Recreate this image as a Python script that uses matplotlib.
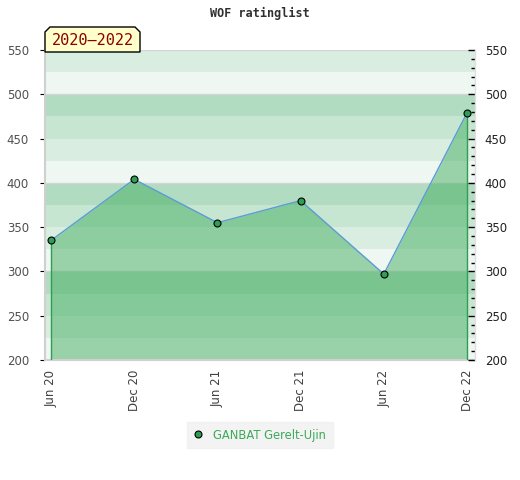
import numpy as np
import matplotlib
matplotlib.use('Agg')
import matplotlib.pyplot as plt
from matplotlib.patches import Polygon

##------------data-----------------##
months = ['Jun 20', 'Dec 20', 'Jun 21', 'Dec 21', 'Jun 22', 'Dec 22']
ratings = [335, 404, 355, 380, 297, 479]
player = 'GANBAT Gerelt-Ujin'
period = '2020\u20132022'
title = 'WOF ratinglist'

y_min, y_max = 200, 550
band_colors = ['#d9ede0', '#eef7f2', '#b2dcc1', '#c7e6d2']  # from top, every 25

##------------figure-----------------##
fig = plt.figure(figsize=(5.2, 4.8), dpi=100)
ax = fig.add_axes([45/520, 120/480, 430/520, 310/480])

x = np.arange(len(months))
ax.set_xlim(-0.072, len(months) - 1 + 0.096)
ax.set_ylim(y_min, y_max)

# background bands
tops = np.arange(y_max, y_min, -25)
for k, t in enumerate(tops):
	ax.axhspan(t - 25, t, color=band_colors[k % 4], lw=0, zorder=0)
for g in [300, 400, 500, 550]:
	ax.axhline(g, color='#d4d4d4', lw=1, zorder=1)

# filled area
ax.fill_between(x, ratings, y_min, color='#3aaa58', alpha=0.47, lw=0, zorder=2)
ax.vlines([x[0], x[-1]], y_min, [ratings[0], ratings[-1]], color='#2e9e50', lw=1.0, zorder=3)
ax.plot(x, ratings, color='#5b9bd5', lw=1.0, zorder=4)
ax.plot(x, ratings, 'o', ms=5, mfc='#2e9e56', mec='black', mew=0.8, zorder=5,
	label=player, clip_on=False)

# axes styling
for s in ['top', 'right']:
	ax.spines[s].set_visible(False)
for s in ['left', 'bottom']:
	ax.spines[s].set_color('#d0d0d0')
	ax.spines[s].set_linewidth(1.5)

ax.set_xticks(x)
ax.set_xticklabels(months, rotation=90, fontsize=8.5, color='#404040')
ax.tick_params(axis='x', length=0, pad=7)
ax.set_yticks(np.arange(y_min, y_max + 1, 50))
ax.tick_params(axis='y', left=False, labelsize=8.5, labelcolor='#505050', pad=8)

ax2 = ax.twinx()
ax2.set_ylim(y_min, y_max)
ax2.set_yticks(np.arange(y_min, y_max + 1, 50))
ax2.set_yticks(np.arange(y_min, y_max + 1, 10), minor=True)
ax2.tick_params(axis='y', which='major', direction='in', length=5, width=1, labelsize=8.5,
	labelcolor='#202020', pad=7)
ax2.tick_params(axis='y', which='minor', direction='in', length=3, width=1)
for s in ax2.spines.values():
	s.set_visible(False)
ax2.spines['right'].set_visible(True)
ax2.spines['right'].set_color('#e0e0e0')
ax2.spines['right'].set_linewidth(1.0)

# title
fig.text(0.5, 1 - 13/480, title, ha='center', va='center', fontsize=8.5,
	family='DejaVu Sans Mono', fontweight='bold', color='#303030')

# period label box with chamfered top corners
bx0, bx1, by0, by1, c = 45, 140, 430 - 2, 480 - 27, 5
pts = [(bx0, by0), (bx0, by1 - c), (bx0 + c, by1), (bx1 - c, by1), (bx1, by1 - c), (bx1, by0)]
pts = [(px/520, py/480) for px, py in pts]
fig.patches.append(Polygon(pts, closed=True, transform=fig.transFigure, fc='#ffffcc',
	ec='black', lw=1, zorder=10))
fig.text((bx0 + bx1)/2/520, (by0 + by1)/2/480 - 0.002, period, ha='center', va='center',
	fontsize=11, family='DejaVu Sans Mono', color='#8b0000', zorder=11)

# legend
leg = ax.legend(loc='center', bbox_to_anchor=(0.5, -(435 - 360)/310), frameon=True,
	fontsize=8.3, handletextpad=0.9, borderpad=0.55, handlelength=0.8, fancybox=False)
leg.get_frame().set_facecolor('#f0f0f0')
leg.get_frame().set_edgecolor('#f0f0f0')
for t in leg.get_texts():
	t.set_color('#3aaa5a')

plt.savefig('out.png', dpi=100)
